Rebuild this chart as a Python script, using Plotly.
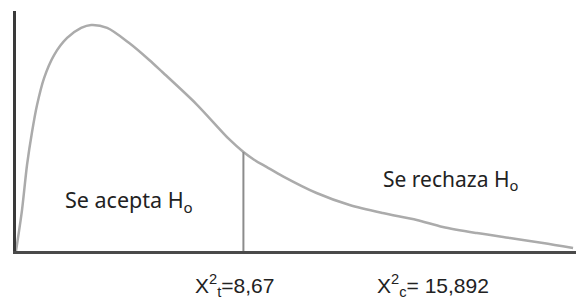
import plotly.graph_objects as go

# Curve points (x in chi-square units, y in density units)
curve_x = [0.0, 0.229, 0.420, 0.611, 0.802, 1.070, 1.452, 1.948, 2.483, 2.865,
           3.476, 4.316, 5.080, 5.577, 6.875, 8.136, 8.671, 9.091, 9.549, 10.160,
           11.459, 12.720, 13.980, 15.279, 16.272, 17.571, 18.831, 20.092, 21.238]
curve_y = [0.0, 0.0290, 0.0609, 0.0843, 0.1034, 0.1225, 0.1388, 0.1509, 0.1580,
           0.1601, 0.1580, 0.1473, 0.1353, 0.1268, 0.1041, 0.0790, 0.0701, 0.0645,
           0.0596, 0.0531, 0.0411, 0.0326, 0.0269, 0.0220, 0.0170, 0.0127, 0.0092,
           0.0057, 0.0021]

chi_t = 8.67
chi_t_height = 0.0701
chi_c = 15.892

labels = {
    "accept": "Se acepta H<sub>o</sub>",
    "reject": "Se rechaza H<sub>o</sub>",
    "chi_t": "X<sup>2</sup><sub>t</sub>=8,67",
    "chi_c": "X<sup>2</sup><sub>c</sub>= 15,892",
}

fig = go.Figure()
fig.add_trace(go.Scatter(x=curve_x, y=curve_y, mode="lines",
                         line=dict(color="#ababab", width=2.5, shape="spline", smoothing=0.8),
                         hoverinfo="skip"))
fig.add_trace(go.Scatter(x=[chi_t, chi_t], y=[0, chi_t_height], mode="lines",
                         line=dict(color="#8c8c8c", width=2), hoverinfo="skip"))

fig.add_annotation(x=4.32, y=0.0354, xref="x", yref="y", text=labels["accept"],
                   showarrow=False, font=dict(family="Noto Sans", size=21.5, color="#222"))
fig.add_annotation(x=16.55, y=0.0503, xref="x", yref="y", text=labels["reject"],
                   showarrow=False, font=dict(family="Noto Sans", size=21, color="#222"))
fig.add_annotation(x=chi_t, y=-0.143, xref="x", yref="paper", xshift=-9, text=labels["chi_t"],
                   showarrow=False, yanchor="middle",
                   font=dict(family="Liberation Sans", size=21, color="#222"))
fig.add_annotation(x=chi_c, y=-0.143, xref="x", yref="paper", text=labels["chi_c"],
                   showarrow=False, yanchor="middle",
                   font=dict(family="Liberation Sans", size=21, color="#222"))

fig.update_layout(
    width=576, height=301,
    margin=dict(l=16, r=0, t=11, b=50),
    plot_bgcolor="white", paper_bgcolor="white",
    showlegend=False,
    xaxis=dict(range=[0, 21.35], showgrid=False, zeroline=False, showticklabels=False,
               ticks="", showline=True, linecolor="#4a4a4a", linewidth=3),
    yaxis=dict(range=[0, 0.17], showgrid=False, zeroline=False, showticklabels=False,
               ticks="", showline=True, linecolor="#3a3a3a", linewidth=3),
)

fig.write_html("out.html", config={"displayModeBar": False},
               post_script="document.body.style.margin='0';")
